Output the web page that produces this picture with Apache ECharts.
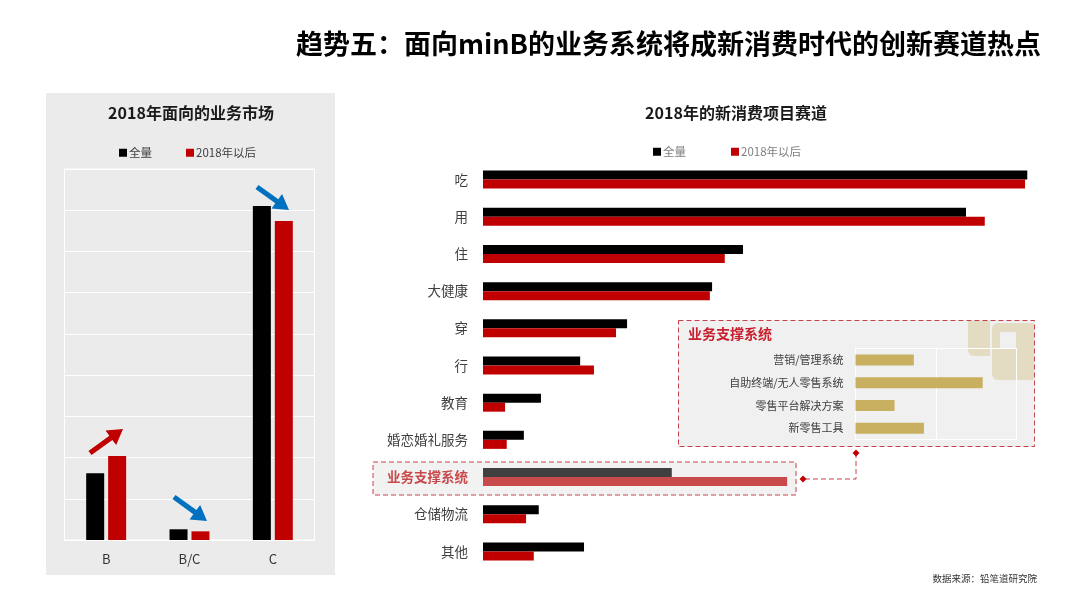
<!DOCTYPE html>
<html>
<head>
<meta charset="utf-8">
<script src="https://cdn.jsdelivr.net/npm/echarts@6/dist/echarts.min.js"></script>
<style>
  html, body { margin: 0; padding: 0; background: #fff; }
  #main { width: 1080px; height: 608px; }
</style>
</head>
<body>
<div id="main"></div>
<script>
// 数据
let seriesNames = ['全量', '2018年以后'];

// 左图：面向的业务市场
let marketCats = ['B', 'B/C', 'C'];
let marketAll = [16.2, 2.6, 81];
let marketNew = [20.4, 2.1, 77.4];

// 右图：新消费项目赛道
let trackCats = ['吃', '用', '住', '大健康', '穿', '行', '教育', '婚恋婚礼服务', '业务支撑系统', '仓储物流', '其他'];
let trackAll = [98.6, 87.5, 47.1, 41.5, 26.1, 17.6, 10.5, 7.4, 34.2, 10.1, 18.3];
let trackNew = [98.2, 90.9, 43.8, 41.1, 24.1, 20.1, 4, 4.3, 55.1, 7.8, 9.2];
let hotCat = '业务支撑系统';

// 内嵌图：业务支撑系统
let subCats = ['营销/管理系统', '自助终端/无人零售系统', '零售平台解决方案', '新零售工具'];
let subValues = [14.5, 31.6, 9.7, 17];

let FONT = '"Noto Sans CJK SC", sans-serif';
let RED = '#c00000';
let BLUE = '#0070c0';
let DASH = '#c8404a';

// 粗箭头，给出尾部和尖端
function arrow(x1, y1, x2, y2, color) {
  let len = Math.sqrt((x2 - x1) * (x2 - x1) + (y2 - y1) * (y2 - y1));
  let ux = (x2 - x1) / len, uy = (y2 - y1) / len;
  let nx = -uy, ny = ux;
  let headLen = 15, headW = 9, w = 2.6;
  let bx = x2 - ux * headLen, by = y2 - uy * headLen;
  return {
    type: 'polygon',
    z: 100,
    shape: {
      points: [
        [x1 + nx * w, y1 + ny * w],
        [bx + nx * w, by + ny * w],
        [bx + nx * headW, by + ny * headW],
        [x2, y2],
        [bx - nx * headW, by - ny * headW],
        [bx - nx * w, by - ny * w],
        [x1 - nx * w, y1 - ny * w]
      ]
    },
    style: { fill: color }
  };
}

function diamond(x, y) {
  return {
    type: 'polygon',
    z: 100,
    shape: { points: [[x, y - 3.5], [x + 3.5, y], [x, y + 3.5], [x - 3.5, y]] },
    style: { fill: RED }
  };
}

function text(x, y, str, size, color, weight, align) {
  return {
    type: 'text',
    z: 100,
    x: x,
    y: y,
    style: {
      text: str,
      font: (weight || 'normal') + ' ' + size + 'px ' + FONT,
      fill: color,
      align: align || 'center',
      verticalAlign: 'middle'
    }
  };
}

let chart = echarts.init(document.getElementById('main'));

// 高亮的那一行单独上色
function hotData(values, color) {
  return values.map(function (v, i) {
    if (trackCats[i] === hotCat) {
      return { value: v, itemStyle: { color: color } };
    }
    return v;
  });
}

var option = {
  animation: false,
  backgroundColor: '#fff',
  textStyle: { fontFamily: FONT },
  legend: [{
    data: seriesNames,
    left: 114,
    top: 142,
    icon: 'rect',
    itemWidth: 8,
    itemHeight: 8,
    itemGap: 34,
    textStyle: { fontSize: 11.5, color: '#404040', padding: [0, 0, 0, -3] }
  }, {
    data: seriesNames,
    left: 648,
    top: 141,
    icon: 'rect',
    itemWidth: 8,
    itemHeight: 8,
    itemGap: 45,
    textStyle: { fontSize: 11.5, color: '#7f7f7f', padding: [0, 0, 0, -3] }
  }],
  grid: [
    { left: 64.5, top: 169, width: 250, height: 371, show: true, borderColor: '#fff', borderWidth: 1, backgroundColor: 'transparent' },
    { left: 483, top: 161, width: 552, height: 409 },
    { left: 855.5, top: 348.5, width: 161, height: 91, show: true, borderColor: '#fff', borderWidth: 1, backgroundColor: 'transparent' }
  ],
  xAxis: [{
    gridIndex: 0,
    type: 'category',
    data: marketCats,
    axisLine: { lineStyle: { color: '#fff' } },
    axisTick: { show: false },
    axisLabel: { fontSize: 13, color: '#333', margin: 13 }
  }, {
    gridIndex: 1,
    type: 'value',
    min: 0,
    max: 100,
    show: false
  }, {
    gridIndex: 2,
    type: 'value',
    min: 0,
    max: 40,
    interval: 20,
    axisLine: { show: false },
    axisTick: { show: false },
    axisLabel: { show: false },
    splitLine: { lineStyle: { color: '#fff' } }
  }],
  yAxis: [{
    gridIndex: 0,
    type: 'value',
    min: 0,
    max: 90,
    interval: 10,
    axisLine: { show: false },
    axisTick: { show: false },
    axisLabel: { show: false },
    splitLine: { lineStyle: { color: '#fff' } }
  }, {
    gridIndex: 1,
    type: 'category',
    inverse: true,
    data: trackCats.map(function (c) {
      if (c === hotCat) {
        return { value: c, textStyle: { color: '#c94a4a', fontWeight: 'bold' } };
      }
      return c;
    }),
    axisLine: { show: false },
    axisTick: { show: false },
    axisLabel: { fontSize: 13.5, color: '#404040', margin: 15 }
  }, {
    gridIndex: 2,
    type: 'category',
    inverse: true,
    data: subCats,
    axisLine: { show: false },
    axisTick: { show: false },
    axisLabel: { fontSize: 11, color: '#404040', margin: 12 }
  }],
  series: [{
    name: seriesNames[0],
    type: 'bar',
    xAxisIndex: 0,
    yAxisIndex: 0,
    barWidth: 18,
    barGap: '22%',
    itemStyle: { color: '#000' },
    data: marketAll
  }, {
    name: seriesNames[1],
    type: 'bar',
    xAxisIndex: 0,
    yAxisIndex: 0,
    barWidth: 18,
    barGap: '22%',
    itemStyle: { color: RED },
    data: marketNew
  }, {
    name: seriesNames[0],
    type: 'bar',
    xAxisIndex: 1,
    yAxisIndex: 1,
    barWidth: 9,
    barGap: 0,
    itemStyle: { color: '#000' },
    data: hotData(trackAll, '#404040')
  }, {
    name: seriesNames[1],
    type: 'bar',
    xAxisIndex: 1,
    yAxisIndex: 1,
    barWidth: 9,
    barGap: 0,
    itemStyle: { color: RED },
    data: hotData(trackNew, '#c94a4a')
  }, {
    name: '业务支撑系统',
    type: 'bar',
    xAxisIndex: 2,
    yAxisIndex: 2,
    barWidth: 11,
    itemStyle: { color: '#c8b060' },
    data: subValues
  }],
  graphic: [
    // 左侧灰底
    { type: 'rect', z: -5, shape: { x: 46, y: 93, width: 289, height: 482 }, style: { fill: '#ebebeb' } },
    // 高亮行的虚线框
    { type: 'rect', z: -5, shape: { x: 373, y: 462, width: 423, height: 33 }, style: { fill: '#f2f2f2', stroke: DASH, lineWidth: 1, lineDash: [5, 3] } },
    // 内嵌图底板和装饰
    { type: 'rect', z: -5, shape: { x: 678.5, y: 320.5, width: 356, height: 126 }, style: { fill: '#f0f0f0', stroke: DASH, lineWidth: 1, lineDash: [5, 3] } },
    { type: 'rect', z: -4, shape: { x: 968, y: 321, width: 22, height: 35, r: [0, 0, 0, 6] }, style: { fill: '#e3dcc3' } },
    { type: 'rect', z: -4, shape: { x: 992, y: 323, width: 42, height: 57, r: [6, 0, 0, 6] }, style: { fill: '#e3dcc3' } },
    { type: 'rect', z: -3, shape: { x: 1000, y: 332, width: 16, height: 16 }, style: { fill: '#f0f0f0' } },
    // 连接线
    { type: 'polyline', z: 100, shape: { points: [[856, 453], [856, 479], [803, 479]] }, style: { stroke: DASH, fill: null, lineWidth: 1, lineDash: [5, 3] } },
    diamond(856, 453),
    diamond(803, 479),
    // 箭头
    arrow(257, 187, 289, 210, BLUE),
    arrow(90, 453, 123, 429, RED),
    arrow(174, 497, 207, 521, BLUE),
    // 文字
    text(1041, 44, '趋势五：面向minB的业务系统将成新消费时代的创新赛道热点', 27, '#000', 'bold', 'right'),
    text(191, 113, '2018年面向的业务市场', 16, '#1a1a1a', 'bold'),
    text(736, 113, '2018年的新消费项目赛道', 16, '#1a1a1a', 'bold'),
    text(688, 334, '业务支撑系统', 14, '#c8202f', 'bold', 'left'),
    text(1037, 578, '数据来源：铅笔道研究院', 9.5, '#333', 'normal', 'right')
  ]
};

chart.setOption(option);
</script>
</body>
</html>
